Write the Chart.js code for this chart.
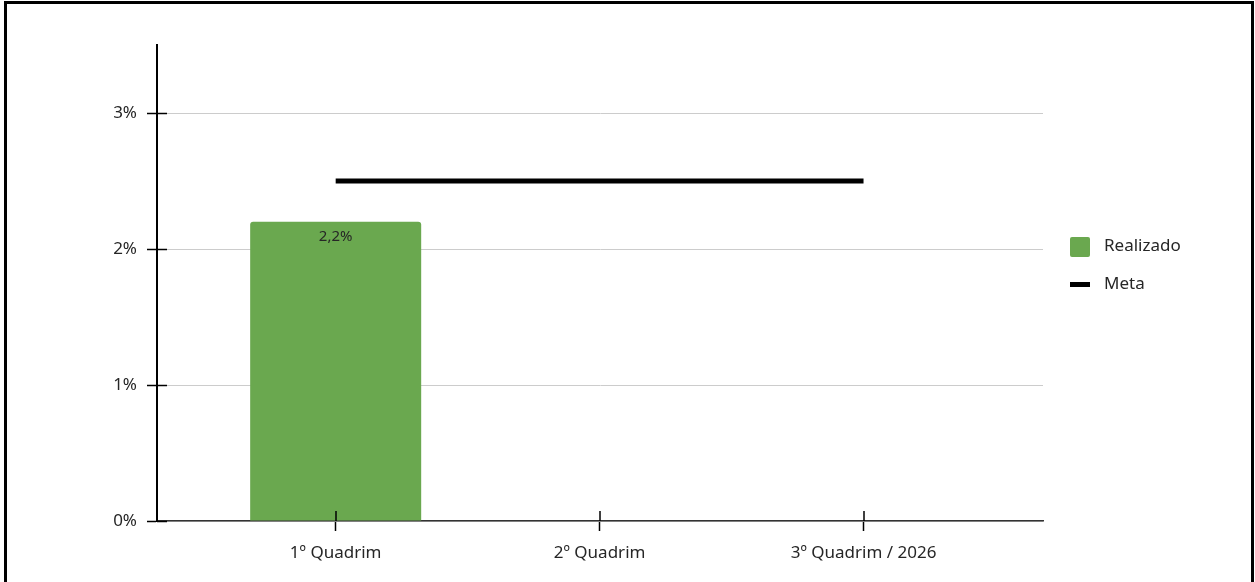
<!DOCTYPE html>
<html>
<head>
<meta charset="utf-8">
<script src="https://cdn.jsdelivr.net/npm/chart.js@4/dist/chart.umd.min.js"></script>
<style>
  html, body { margin: 0; padding: 0; background: #fff; overflow: hidden; }
  #frame { position: absolute; left: 4px; top: 1px; width: 1244px; height: 640px; border: 3px solid #000; }
  #c { position: absolute; left: 0; top: 0; }
</style>
</head>
<body>
<div id="frame"></div>
<canvas id="c" width="1255" height="582"></canvas>
<script>
const categories = ['1º Quadrim', '2º Quadrim', '3º Quadrim / 2026'];
const realizado = [2.2, null, null];
const meta = [2.5, 2.5, 2.5];
const yTicks = [0, 1, 2, 3];

const FONT = '"Noto Sans", "Open Sans", sans-serif';
const GREEN = '#6aa84f';
const TEXT = '#262626';

const crossTicks = {
  id: 'crossTicks',
  afterDatasetsDraw(chart) {
    const ctx = chart.ctx;
    const x = chart.scales.x, y = chart.scales.y;
    ctx.save();
    ctx.strokeStyle = '#000';
    ctx.lineWidth = 1.5;
    yTicks.forEach(v => {
      const py = Math.round(y.getPixelForValue(v)) + 0.5;
      ctx.beginPath(); ctx.moveTo(y.right, py); ctx.lineTo(y.right + 10, py); ctx.stroke();
    });
    categories.forEach((c, i) => {
      const px = Math.round(x.getPixelForValue(i));
      ctx.beginPath(); ctx.moveTo(px, x.top); ctx.lineTo(px, x.top - 10); ctx.stroke();
    });
    ctx.fillStyle = TEXT;
    ctx.font = '15px ' + FONT;
    ctx.textAlign = 'center';
    ctx.textBaseline = 'middle';
    const m = chart.getDatasetMeta(0);
    m.data.forEach((el, i) => {
      if (realizado[i] == null) return;
      ctx.fillText(realizado[i].toFixed(1).replace('.', ',') + '%', el.x, el.y + 15);
    });
    ctx.restore();
  },
  afterDraw(chart) {
    const ctx = chart.ctx;
    ctx.save();
    const lx = 1070;
    ctx.fillStyle = GREEN;
    ctx.beginPath();
    ctx.roundRect(lx, 237, 20, 20, 2);
    ctx.fill();
    ctx.fillStyle = '#000';
    ctx.fillRect(lx, 282, 20, 5);
    ctx.fillStyle = TEXT;
    ctx.font = '17px ' + FONT;
    ctx.textAlign = 'left';
    ctx.textBaseline = 'middle';
    ctx.fillText(chart.data.datasets[0].label, 1104, 246);
    ctx.fillText(chart.data.datasets[1].label, 1104, 284);
    ctx.restore();
  }
};

new Chart(document.getElementById('c'), {
  data: {
    datasets: [
      {
        type: 'bar',
        label: 'Realizado',
        data: realizado.map((v, i) => ({ x: i, y: v })),
        backgroundColor: GREEN,
        borderRadius: { topLeft: 3, topRight: 3 },
        borderSkipped: 'bottom',
        barPercentage: 0.648,
        categoryPercentage: 1,
        order: 2
      },
      {
        type: 'line',
        label: 'Meta',
        data: meta.map((v, i) => ({ x: i, y: v })),
        borderColor: '#000',
        backgroundColor: '#000',
        borderWidth: 5,
        pointRadius: 0,
        borderCapStyle: 'butt',
        order: 1
      }
    ]
  },
  options: {
    responsive: false,
    animation: false,
    events: [],
    layout: { padding: { left: 0, top: 45, right: 212, bottom: 0 } },
    plugins: { legend: { display: false }, tooltip: { enabled: false } },
    scales: {
      x: {
        type: 'linear',
        bounds: 'data',
        offset: false,
        min: -0.677,
        max: 2.68,
        afterBuildTicks(s) { s.ticks = categories.map((c, i) => ({ value: i })); },
        afterFit(s) { s.height = 61; },
        ticks: {
          autoSkip: false,
          maxRotation: 0,
          padding: 12,
          color: TEXT,
          font: { family: FONT, size: 17 },
          callback: (v) => categories[v]
        },
        grid: { offset: false, drawOnChartArea: false, drawTicks: true, tickLength: 10, tickColor: '#000', tickWidth: 1.5 },
        border: { color: '#333', width: 1.5 }
      },
      y: {
        type: 'linear',
        bounds: 'data',
        min: 0,
        max: 3.5,
        afterBuildTicks(s) { s.ticks = yTicks.map(v => ({ value: v })); },
        afterFit(s) { s.width = 157; },
        ticks: {
          padding: 10,
          color: TEXT,
          font: { family: FONT, size: 17 },
          callback: (v) => v + '%'
        },
        grid: { color: '#cccccc', lineWidth: 1, drawTicks: true, tickLength: 10, tickColor: '#000', tickWidth: 1.5 },
        border: { color: '#000', width: 2 }
      }
    }
  },
  plugins: [crossTicks]
});
</script>
</body>
</html>
